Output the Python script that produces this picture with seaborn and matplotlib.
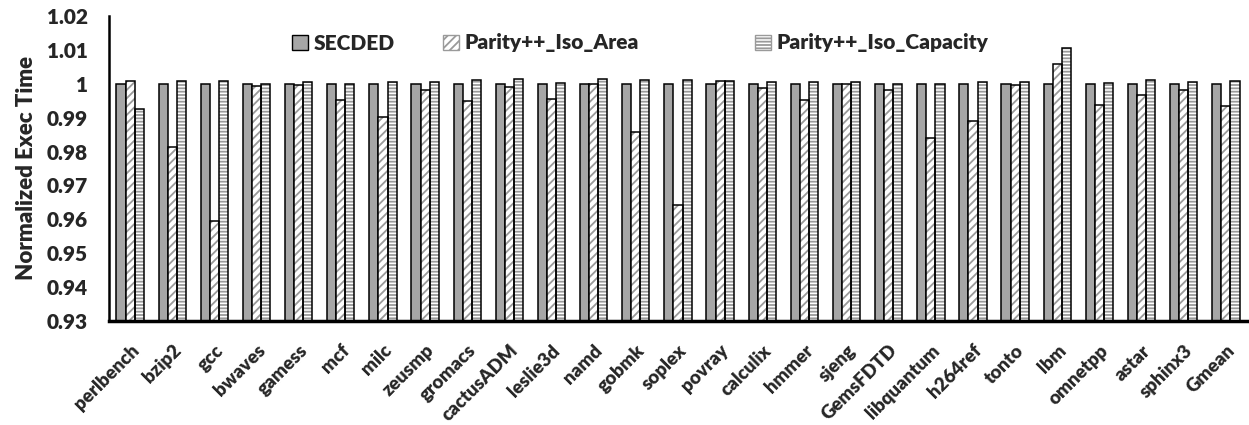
import matplotlib
matplotlib.use("Agg")
import matplotlib.pyplot as plt
import matplotlib.patches as mpatches
import matplotlib.transforms as mtransforms
import seaborn as sns
import pandas as pd

benchmarks = ["perlbench", "bzip2", "gcc", "bwaves", "gamess", "mcf", "milc", "zeusmp",
              "gromacs", "cactusADM", "leslie3d", "namd", "gobmk", "soplex", "povray",
              "calculix", "hmmer", "sjeng", "GemsFDTD", "libquantum", "h264ref", "tonto",
              "lbm", "omnetpp", "astar", "sphinx3", "Gmean"]

secded = [1.0] * 27
iso_area = [1.0009, 0.9814, 0.9595, 0.9993, 0.9996, 0.9952, 0.9903, 0.9981,
            0.9949, 0.9991, 0.9956, 1.0000, 0.9857, 0.9641, 1.0009,
            0.9987, 0.9953, 1.0000, 0.9981, 0.9841, 0.9890, 0.9995,
            1.0059, 0.9936, 0.9966, 0.9982, 0.9933]
iso_capacity = [0.9925, 1.0007, 1.0009, 0.9998, 1.0005, 1.0000, 1.0005, 1.0005,
                1.0010, 1.0013, 1.0003, 1.0015, 1.0010, 1.0011, 1.0007,
                1.0005, 1.0005, 1.0006, 1.0000, 0.9999, 1.0006, 1.0006,
                1.0106, 1.0003, 1.0010, 1.0004, 1.0008]

series_names = ["SECDED", "Parity++_Iso_Area", "Parity++_Iso_Capacity"]
y_ticks = [0.93, 0.94, 0.95, 0.96, 0.97, 0.98, 0.99, 1.00, 1.01, 1.02]
y_tick_labels = ["0.93", "0.94", "0.95", "0.96", "0.97", "0.98", "0.99", "1", "1.01", "1.02"]

sns.set_theme(style="white")
plt.rcParams["font.family"] = ["Lato", "DejaVu Sans"]
plt.rcParams["font.weight"] = "heavy"
plt.rcParams["hatch.linewidth"] = 1.3

rows = []
for name, vals in zip(series_names, [secded, iso_area, iso_capacity]):
    for b, v in zip(benchmarks, vals):
        rows.append({"bench": b, "series": name, "value": v})
df = pd.DataFrame(rows)

W, H = 1249, 425
fig = plt.figure(figsize=(W / 100, H / 100), dpi=100)
ax = fig.add_axes([109 / W, 104 / H, 1 - 109 / W, (321 - 16) / H])

palette = {"SECDED": "#a6a6a6", "Parity++_Iso_Area": "white", "Parity++_Iso_Capacity": "white"}
sns.barplot(data=df, x="bench", y="value", hue="series", hue_order=series_names,
            palette=palette, width=0.65, gap=0, edgecolor="black", linewidth=1.1,
            errorbar=None, legend=False, ax=ax, saturation=1)

hatches = [None, "////", "-----"]
hatch_gray = "#9a9a9a"
for cont, h in zip(ax.containers, hatches):
    if h is None:
        continue
    for p in cont:
        p.set_hatch(h)
        p.set_edgecolor(hatch_gray)
        p.set_linewidth(0)
        outline = mpatches.Rectangle(p.get_xy(), p.get_width(), p.get_height(),
                                     fill=False, edgecolor="black", linewidth=1.1,
                                     zorder=p.get_zorder() + 0.1)
        ax.add_patch(outline)

ax.set_ylim(0.93, 1.02)
ax.set_xlim(-0.5, 26.55)
ax.set_yticks(y_ticks)
ax.set_yticklabels(y_tick_labels, fontsize=15, fontweight="heavy")
ax.set_xticks(range(len(benchmarks)))
ax.set_xticklabels(benchmarks, rotation=45, ha="right", va="top", rotation_mode="anchor",
                   fontsize=13.5, fontweight="heavy")
offset = mtransforms.ScaledTranslation(7 / 100, 0, fig.dpi_scale_trans)
for lbl in ax.get_xticklabels():
    lbl.set_transform(lbl.get_transform() + offset)
ax.tick_params(axis="both", length=0)
ax.tick_params(axis="x", pad=15)
ax.tick_params(axis="y", pad=15)
ax.set_xlabel("")
ax.set_ylabel("Normalized Exec Time", fontsize=16, fontweight="heavy", labelpad=7)

for s in ["top", "right"]:
    ax.spines[s].set_visible(False)
ax.spines["left"].set_color("black")
ax.spines["left"].set_linewidth(1.8)
ax.spines["bottom"].set_color("black")
ax.spines["bottom"].set_linewidth(2.5)

handles = [
    mpatches.Patch(facecolor="#a6a6a6", edgecolor="black", linewidth=1.0),
    mpatches.Patch(facecolor="white", edgecolor=hatch_gray, hatch="////", linewidth=1.0),
    mpatches.Patch(facecolor="white", edgecolor=hatch_gray, hatch="-----", linewidth=1.0),
]
legend_x = [(292 - 109) / 1140, (443 - 109) / 1140, (755 - 109) / 1140]
legend_y = (321 - 43) / 305
legs = []
for hnd, name, lx in zip(handles, series_names, legend_x):
    lg = ax.legend([hnd], [name], loc="center left", bbox_to_anchor=(lx, legend_y),
                   frameon=False, borderpad=0, borderaxespad=0, handlelength=0.75,
                   handleheight=0.75, handletextpad=0.3,
                   prop={"weight": "heavy", "size": 15})
    legs.append(lg)
for lg in legs[:-1]:
    ax.add_artist(lg)

fig.savefig("out.png", dpi=100, facecolor="white")
